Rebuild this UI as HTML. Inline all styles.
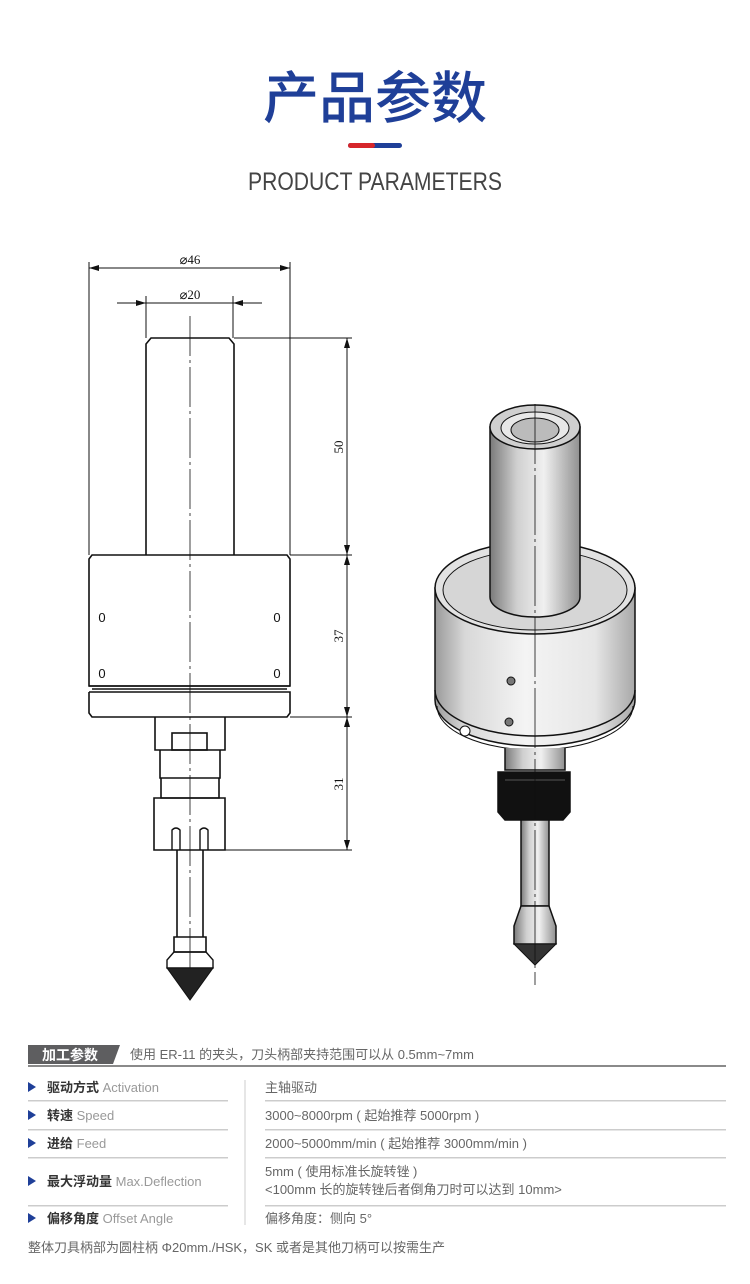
<!DOCTYPE html>
<html><head><meta charset="utf-8"><style>
html,body{margin:0;padding:0;background:#fff;}
svg{display:block}
</style></head><body>
<svg width="750" height="1284" viewBox="0 0 750 1284" xmlns="http://www.w3.org/2000/svg" font-family="Liberation Sans, Noto Sans CJK SC, sans-serif">
<defs>
<linearGradient id="cyl" x1="0" x2="1" y1="0" y2="0">
<stop offset="0" stop-color="#9a9a9a"/><stop offset="0.15" stop-color="#d8d8d8"/><stop offset="0.45" stop-color="#f4f4f4"/><stop offset="0.8" stop-color="#e6e6e6"/><stop offset="1" stop-color="#a8a8a8"/>
</linearGradient>
<linearGradient id="cyl2" x1="0" x2="1" y1="0" y2="0">
<stop offset="0" stop-color="#7a7a7a"/><stop offset="0.3" stop-color="#d0d0d0"/><stop offset="0.6" stop-color="#f0f0f0"/><stop offset="1" stop-color="#909090"/>
</linearGradient>
<marker id="ar" viewBox="0 0 10 6" refX="10" refY="3" markerWidth="10" markerHeight="6" orient="auto-start-reverse" markerUnits="userSpaceOnUse"><path d="M0,0 L10,3 L0,6z" fill="#111"/></marker>
</defs>

<!-- header -->
<text x="375" y="118" text-anchor="middle" font-size="56" font-weight="500" fill="#1f3f98" font-family="Noto Sans CJK SC, sans-serif">产品参数</text>
<rect x="348" y="143" width="54" height="5" rx="2.5" fill="#1f3f98"/>
<rect x="348" y="143" width="27" height="5" rx="2.5" fill="#d6262b"/>
<text x="375" y="190" text-anchor="middle" font-size="25" fill="#444" textLength="254" lengthAdjust="spacingAndGlyphs">PRODUCT PARAMETERS</text>

<!-- technical drawing -->
<g stroke="#111" fill="none" stroke-width="1">
<line x1="89" y1="262" x2="89" y2="555"/><line x1="290" y1="262" x2="290" y2="555"/>
<line x1="89" y1="268" x2="290" y2="268" marker-start="url(#ar)" marker-end="url(#ar)"/>
<line x1="146" y1="296" x2="146" y2="338"/><line x1="233" y1="296" x2="233" y2="338"/>
<line x1="117" y1="303" x2="146" y2="303" marker-end="url(#ar)"/>
<line x1="262" y1="303" x2="233" y2="303" marker-end="url(#ar)"/>
<line x1="146" y1="303" x2="233" y2="303"/>
<line x1="234" y1="338" x2="352" y2="338"/>
<line x1="290" y1="555" x2="352" y2="555"/>
<line x1="290" y1="717" x2="352" y2="717"/>
<line x1="225" y1="850" x2="352" y2="850"/>
<line x1="347" y1="338" x2="347" y2="555" marker-start="url(#ar)" marker-end="url(#ar)"/>
<line x1="347" y1="555" x2="347" y2="717" marker-start="url(#ar)" marker-end="url(#ar)"/>
<line x1="347" y1="717" x2="347" y2="850" marker-start="url(#ar)" marker-end="url(#ar)"/>
<line x1="190" y1="316" x2="190" y2="1000" stroke-width="0.8" stroke-dasharray="40,4,3,4"/>
<path d="M146,555 L146,344 L151,338 L229,338 L234,344 L234,555" stroke-width="1.6"/>
<path d="M92,555 L287,555 L290,559 L290,686 L89,686 L89,559 Z" stroke-width="1.6"/>
<path d="M89,686 L290,686 M92,689 L287,689 M89,692 L290,692 L290,713 L287,717 L92,717 L89,713 L89,692" stroke-width="1.6"/>
<path d="M155,717 L155,750 L225,750 L225,717" stroke-width="1.6"/>
<rect x="172" y="733" width="35" height="17" stroke-width="1.6"/>
<path d="M160,750 L160,778 L220,778 L220,750 M161,778 L161,798 L219,798 L219,778" stroke-width="1.6"/>
<path d="M154,798 L225,798 L225,850 L154,850 Z" stroke-width="1.6"/>
<path d="M172,850 L172,830 Q176,826 180,830 L180,850 M208,850 L208,830 Q204,826 200,830 L200,850" stroke-width="1.4"/>
<path d="M177,850 L177,937 M203,850 L203,937 M174,937 L206,937 L206,952 L174,952 Z" stroke-width="1.6"/>
<path d="M174,952 L206,952 L213,960 L213,968 L167,968 L167,960 Z" stroke-width="1.4"/>
<path d="M167,968 L190,1000 L213,968 Z" fill="#222" stroke-width="1"/>
</g>
<g font-family="Liberation Serif, serif" font-size="13" fill="#111">
<text x="190" y="264" text-anchor="middle">⌀46</text>
<text x="190" y="299" text-anchor="middle">⌀20</text>
<text transform="translate(343,447) rotate(-90)" text-anchor="middle">50</text>
<text transform="translate(343,636) rotate(-90)" text-anchor="middle">37</text>
<text transform="translate(343,784) rotate(-90)" text-anchor="middle">31</text>
<text x="102" y="622" text-anchor="middle" font-family="Liberation Sans">0</text>
<text x="277" y="622" text-anchor="middle" font-family="Liberation Sans">0</text>
<text x="102" y="678" text-anchor="middle" font-family="Liberation Sans">0</text>
<text x="277" y="678" text-anchor="middle" font-family="Liberation Sans">0</text>
</g>

<!-- 3D render -->
<g stroke="#111" stroke-width="1.5">
<path d="M435,588 L435,700 A100,46 0 0 0 635,700 L635,588 Z" fill="url(#cyl)"/>
<path d="M435,690 A100,46 0 0 0 635,690" fill="none"/>
<path d="M437,706 A98,44 0 0 0 633,706" fill="none" stroke-width="1"/>
<ellipse cx="535" cy="588" rx="100" ry="46" fill="#e2e2e2"/>
<ellipse cx="535" cy="590" rx="92" ry="40" fill="#d6d6d6" stroke-width="1"/>
<circle cx="511" cy="681" r="4" fill="#777" stroke-width="1"/>
<circle cx="509" cy="722" r="4" fill="#777" stroke-width="1"/>
<circle cx="465" cy="731" r="5" fill="#fff" stroke-width="1"/>
<path d="M490,427 L490,597 A45,20 0 0 0 580,597 L580,427 Z" fill="url(#cyl2)"/>
<ellipse cx="535" cy="427" rx="45" ry="22" fill="#cfcfcf"/>
<ellipse cx="535" cy="428" rx="34" ry="16" fill="#e8e8e8" stroke-width="1"/>
<ellipse cx="535" cy="430" rx="24" ry="12" fill="#bbb" stroke-width="1"/>
<path d="M505,748 L505,770 L565,770 L565,748" fill="url(#cyl2)"/>
<path d="M498,772 L570,772 L570,812 L563,820 L505,820 L498,812 Z" fill="#111"/>
<path d="M505,780 L565,780" stroke="#555" stroke-width="1"/>
<rect x="521" y="820" width="28" height="86" fill="url(#cyl2)"/>
<path d="M521,906 L549,906 L556,926 L556,944 L514,944 L514,926 Z" fill="url(#cyl2)"/>
<path d="M514,944 L535,965 L556,944 Z" fill="#333" stroke-width="1"/>
</g>
<line x1="535" y1="404" x2="535" y2="985" stroke="#111" stroke-width="0.8" stroke-dasharray="60,4,3,4"/>

<!-- table -->
<path d="M28,1045 L120,1045 L113,1064 L28,1064 Z" fill="#5e5e60"/>
<text x="42" y="1060" font-size="14" font-weight="bold" fill="#fff" font-family="Noto Sans CJK SC, sans-serif">加工参数</text>
<text x="130" y="1059" font-size="13" fill="#666">使用 ER-11 的夹头，刀头柄部夹持范围可以从 0.5mm~7mm</text>
<rect x="28" y="1065" width="698" height="2" fill="#8a8a8a"/>
<line x1="245" y1="1080" x2="245" y2="1225" stroke="#ccc"/>
<g fill="#ccc">
<rect x="28" y="1100" width="200" height="1.5"/><rect x="265" y="1100" width="461" height="1.5"/>
<rect x="28" y="1129" width="200" height="1.5"/><rect x="265" y="1129" width="461" height="1.5"/>
<rect x="28" y="1157" width="200" height="1.5"/><rect x="265" y="1157" width="461" height="1.5"/>
<rect x="28" y="1205" width="200" height="1.5"/><rect x="265" y="1205" width="461" height="1.5"/>
</g>
<g fill="#1f3f98">
<path d="M28,1082 L36,1087 L28,1092Z"/><path d="M28,1110 L36,1115 L28,1120Z"/><path d="M28,1138 L36,1143 L28,1148Z"/><path d="M28,1176 L36,1181 L28,1186Z"/><path d="M28,1213 L36,1218 L28,1223Z"/>
</g>
<g font-size="13" fill="#999">
<text x="47" y="1092"><tspan fill="#333" font-weight="bold">驱动方式</tspan> Activation</text>
<text x="47" y="1120"><tspan fill="#333" font-weight="bold">转速</tspan> Speed</text>
<text x="47" y="1148"><tspan fill="#333" font-weight="bold">进给</tspan> Feed</text>
<text x="47" y="1186"><tspan fill="#333" font-weight="bold">最大浮动量</tspan> Max.Deflection</text>
<text x="47" y="1223"><tspan fill="#333" font-weight="bold">偏移角度</tspan> Offset Angle</text>
</g>
<g font-size="13" fill="#666">
<text x="265" y="1092">主轴驱动</text>
<text x="265" y="1120">3000~8000rpm ( 起始推荐 5000rpm )</text>
<text x="265" y="1148">2000~5000mm/min ( 起始推荐 3000mm/min )</text>
<text x="265" y="1176">5mm ( 使用标准长旋转锉 )</text>
<text x="265" y="1194">&lt;100mm 长的旋转锉后者倒角刀时可以达到 10mm&gt;</text>
<text x="265" y="1223">偏移角度：侧向 5°</text>
<text x="28" y="1252">整体刀具柄部为圆柱柄 Φ20mm./HSK，SK 或者是其他刀柄可以按需生产</text>
</g>
</svg>
</body></html>
